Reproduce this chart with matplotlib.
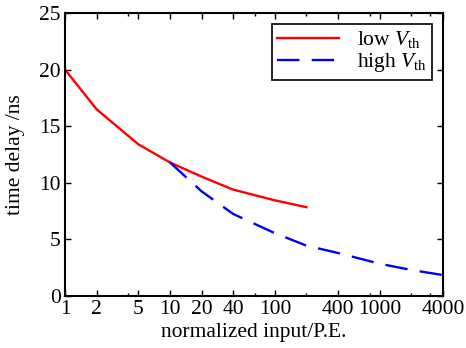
import matplotlib
matplotlib.use("Agg")
import matplotlib.pyplot as plt
from matplotlib.ticker import FixedLocator, NullFormatter

plt.rcParams["font.family"] = ["Liberation Serif", "DejaVu Serif"]
plt.rcParams["mathtext.fontset"] = "custom"
plt.rcParams["mathtext.rm"] = "Liberation Serif"
plt.rcParams["mathtext.it"] = "Liberation Serif:italic"

# data
low_x = [1, 2, 5, 10, 20, 40, 100, 200]
low_y = [20.0, 16.5, 13.4, 11.8, 10.55, 9.4, 8.45, 7.85]
high_x = [10, 20, 40, 100, 200, 400, 1000, 2000, 4000]
high_y = [11.8, 9.25, 7.25, 5.55, 4.45, 3.8, 2.85, 2.3, 1.85]

xticks = [1, 2, 5, 10, 20, 40, 100, 400, 1000, 4000]
xminor = [4, 64, 200, 800, 2000, 3000]
yticks = [0, 5, 10, 15, 20, 25]

fig = plt.figure(figsize=(4.66, 3.48), dpi=100)
ax = fig.add_axes([0.1395, 0.1494, 0.8111, 0.8132])

ax.plot(low_x, low_y, color="#ff0000", lw=1.7, label=r"low $V_{\mathrm{th}}$")
ax.plot(high_x, high_y, color="#0000ff", lw=1.7, dashes=(9.5, 5.2),
        label=r"high $V_{\mathrm{th}}$")

ax.set_xscale("log")
ax.set_xlim(1, 4000)
ax.set_ylim(0, 25)
ax.xaxis.set_major_locator(FixedLocator(xticks))
ax.xaxis.set_minor_locator(FixedLocator(xminor))
ax.xaxis.set_minor_formatter(NullFormatter())
ax.set_xticklabels([str(v) for v in xticks])
ax.set_yticks(yticks)

ax.tick_params(which="both", direction="in", top=True, right=True,
               labelsize=15.5, width=1, pad=3)
ax.tick_params(which="major", length=4)
ax.tick_params(which="minor", length=2.5)
for s in ax.spines.values():
    s.set_linewidth(1.5)

ax.set_xlabel("normalized input/P.E.", fontsize=15.5, labelpad=3)
ax.set_ylabel("time delay /ns", fontsize=15.5, labelpad=10)

leg = ax.legend(loc="upper right", fontsize=15.5, frameon=True, fancybox=False,
                edgecolor="black", framealpha=1, handlelength=2.9,
                borderaxespad=0.5, labelspacing=0.05, borderpad=0.25,
                handletextpad=0.8)
leg.get_frame().set_linewidth(1.2)

fig.savefig("out.png", dpi=100)
